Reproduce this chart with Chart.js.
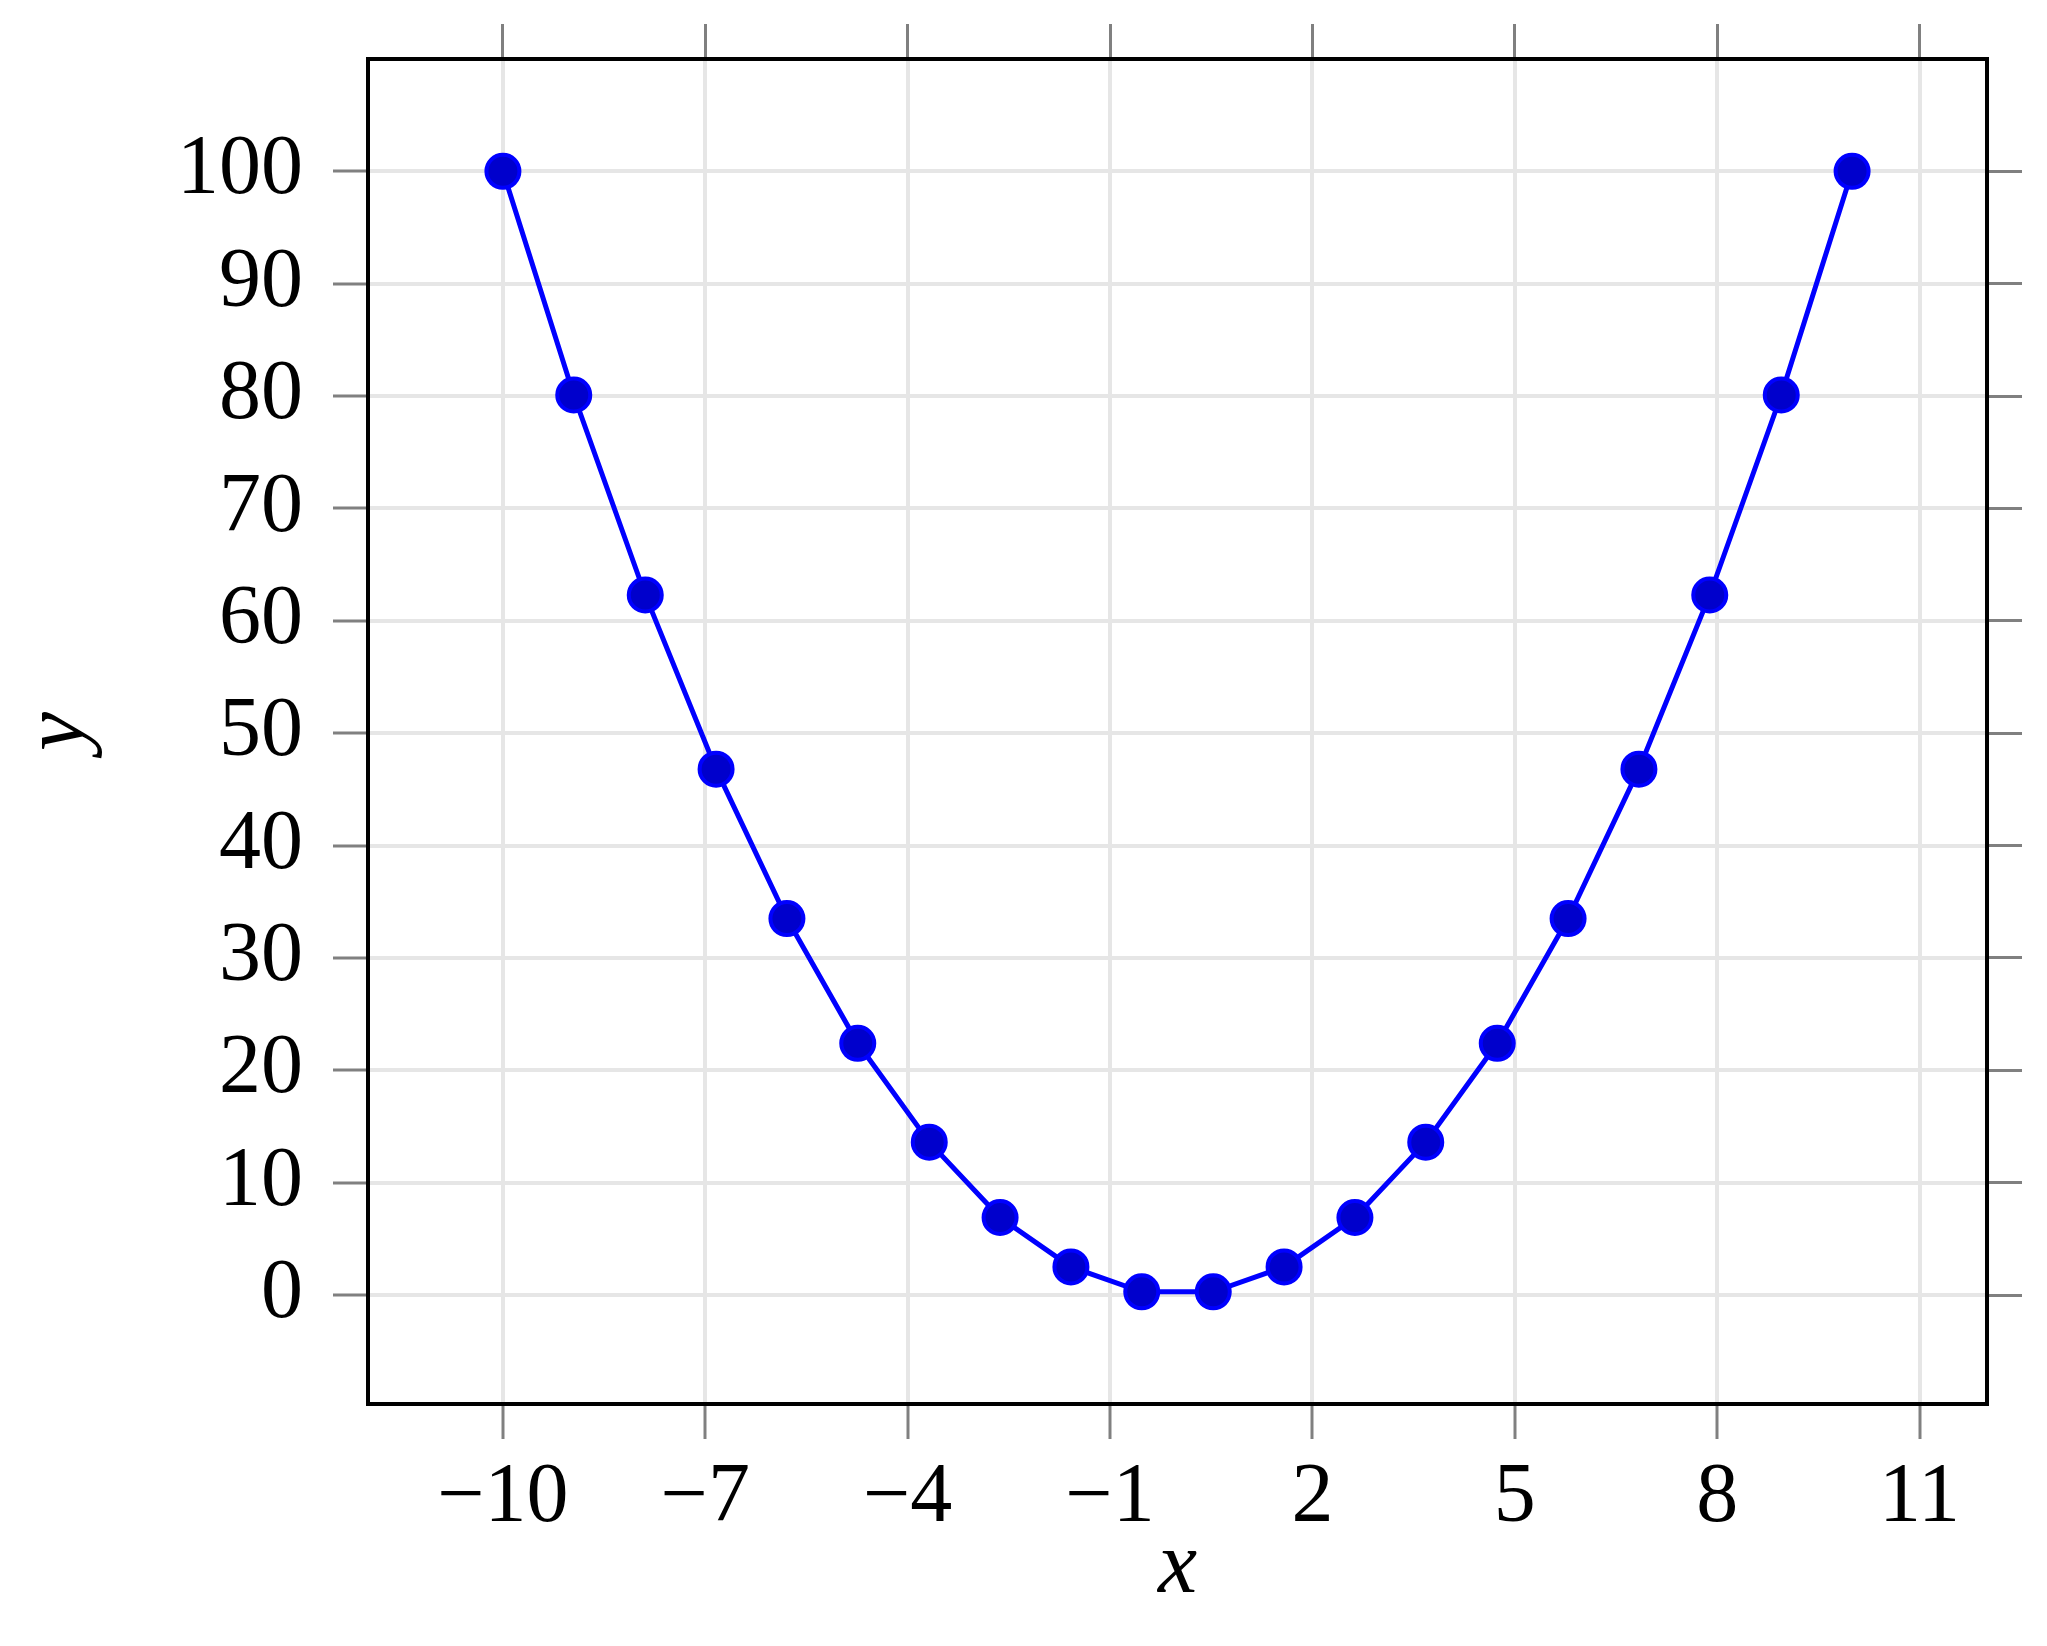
<!DOCTYPE html>
<html>
<head>
<meta charset="utf-8">
<title>y = x squared</title>
<script src="https://cdn.jsdelivr.net/npm/chart.js@4/dist/chart.umd.min.js"></script>
<style>
  html, body { margin: 0; padding: 0; background: #ffffff; }
  #plot { display: block; }
</style>
</head>
<body>
<canvas id="plot" width="2047" height="1646"></canvas>
<script>
// values
const xValues = [-10, -8.95, -7.89, -6.84, -5.79, -4.74, -3.68, -2.63, -1.58, -0.53,
                 0.53, 1.58, 2.63, 3.68, 4.74, 5.79, 6.84, 7.89, 8.95, 10];
const yValues = [100, 80.1, 62.3, 46.8, 33.5, 22.4, 13.6, 6.9, 2.5, 0.28,
                 0.28, 2.5, 6.9, 13.6, 22.4, 33.5, 46.8, 62.3, 80.1, 100];
const xTicks = [-10, -7, -4, -1, 2, 5, 8, 11];
const yTicks = [0, 10, 20, 30, 40, 50, 60, 70, 80, 90, 100];

const points = xValues.map((x, i) => ({ x: x, y: yValues[i] }));

const labelFont = { family: "'Liberation Serif', 'DejaVu Serif', serif", size: 84 };
const titleFont = { family: "'Liberation Serif', 'DejaVu Serif', serif", size: 88, style: "italic" };
const gridColor = "#e6e6e6";
const tickColor = "#808080";

function fmt(v) {
  return v < 0 ? "\u2212" + Math.abs(v) : String(v);
}

function setTicks(list) {
  return function (scale) {
    scale.ticks = list.map((v) => ({ value: v }));
  };
}

// fixed axis sizes so the plot box lands where it is in the reference
function fixSize(w, h) {
  return function (scale) {
    if (w != null) scale.width = w;
    if (h != null) scale.height = h;
    scale.paddingTop = 0;
    scale.paddingBottom = 0;
    scale.paddingLeft = 0;
    scale.paddingRight = 0;
  };
}

const ctx = document.getElementById("plot").getContext("2d");
new Chart(ctx, {
  type: "scatter",
  data: {
    datasets: [
      {
        data: points,
        showLine: true,
        borderColor: "#0000ff",
        borderWidth: 5,
        pointRadius: 16.5,
        pointHoverRadius: 16.5,
        pointBackgroundColor: "#0000cc",
        pointBorderColor: "#0000ff",
        pointBorderWidth: 4,
        tension: 0,
      },
    ],
  },
  options: {
    responsive: false,
    animation: false,
    layout: { padding: 0 },
    plugins: {
      legend: { display: false },
      tooltip: { enabled: false },
    },
    scales: {
      x: {
        type: "linear",
        position: "bottom",
        min: -12,
        max: 12,
        afterBuildTicks: setTicks(xTicks),
        afterFit: fixSize(null, 242),
        ticks: {
          font: labelFont,
          color: "#000000",
          padding: 10,
          maxRotation: 0,
          autoSkip: false,
          callback: (v) => fmt(v),
        },
        grid: {
          color: gridColor,
          lineWidth: 4,
          tickColor: tickColor,
          tickWidth: 3,
          tickLength: 35,
        },
        border: { display: true, color: "#000000", width: 4 },
        title: {
          display: true,
          text: "x",
          font: titleFont,
          color: "#000000",
          padding: { top: 0, bottom: 24 },
        },
      },
      x2: {
        type: "linear",
        position: "top",
        min: -12,
        max: 12,
        afterBuildTicks: setTicks(xTicks),
        afterFit: fixSize(null, 59),
        ticks: { display: false },
        grid: {
          drawOnChartArea: false,
          tickColor: tickColor,
          tickWidth: 3,
          tickLength: 35,
        },
        border: { display: true, color: "#000000", width: 4 },
      },
      y: {
        type: "linear",
        position: "left",
        min: -9.7,
        max: 110,
        afterBuildTicks: setTicks(yTicks),
        afterFit: fixSize(368, null),
        ticks: {
          font: labelFont,
          color: "#000000",
          padding: 30,
          autoSkip: false,
          callback: (v) => fmt(v),
        },
        grid: {
          color: gridColor,
          lineWidth: 4,
          tickColor: tickColor,
          tickWidth: 3,
          tickLength: 35,
        },
        border: { display: true, color: "#000000", width: 4 },
        title: {
          display: true,
          text: "y",
          font: titleFont,
          color: "#000000",
          padding: { top: 7, bottom: 0 },
        },
      },
      y2: {
        type: "linear",
        position: "right",
        min: -9.7,
        max: 110,
        afterBuildTicks: setTicks(yTicks),
        afterFit: fixSize(60, null),
        ticks: { display: false },
        grid: {
          drawOnChartArea: false,
          tickColor: tickColor,
          tickWidth: 3,
          tickLength: 35,
        },
        border: { display: true, color: "#000000", width: 4 },
      },
    },
  },
});
</script>
</body>
</html>
